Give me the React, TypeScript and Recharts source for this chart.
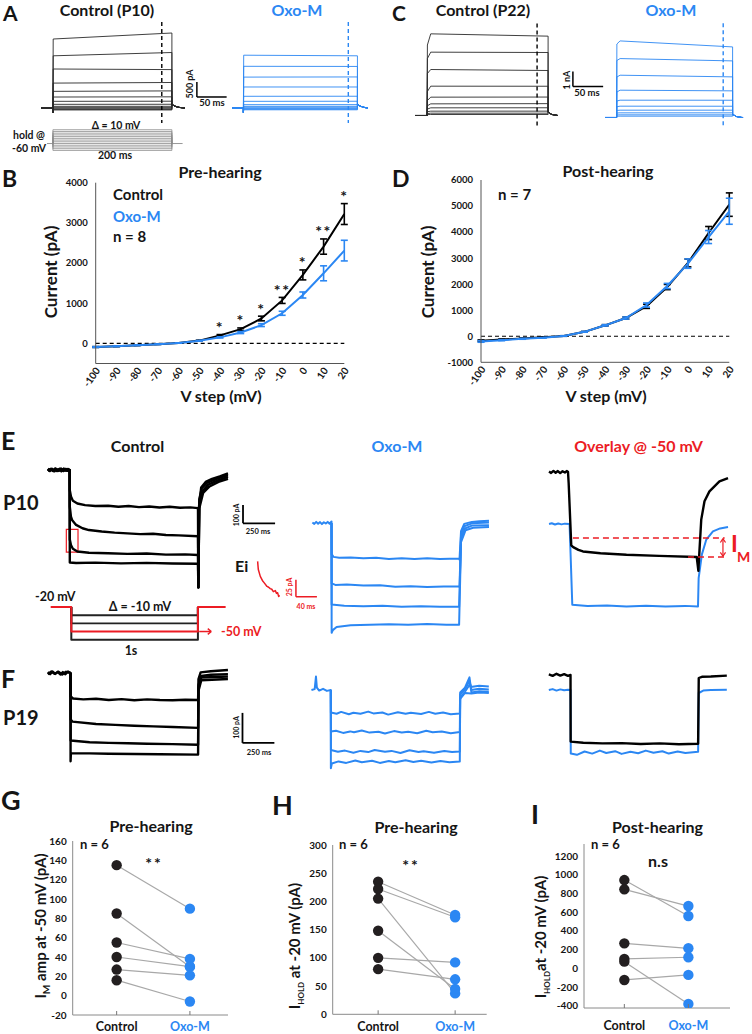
import React from 'react';
import {
  LineChart, Line, XAxis, YAxis, ReferenceLine, ReferenceArea,
  ComposedChart, Scatter, ErrorBar, LabelList,
} from 'recharts';

const FONT = 'Lato, "Open Sans", "DejaVu Sans", sans-serif';
const BLUE = '#2b87f3';
const RED = '#ec1c24';
const INK = '#151515';

// ---------------- Panel A / C : step current levels (pA) ----------------
const aCtrlLevels = [[2300, 2500], [1740, 1850], [1300, 1280], [830, 850], [555, 570], [366, 372], [222, 226], [122, 124], [55, 56], [11, 12], [-25, -25], [-45, -45], [-65, -65]];
const aOxoLevels = [[1760, 1740], [1390, 1385], [1030, 1035], [700, 700], [390, 392], [222, 225], [111, 112], [55, 56], [22, 22], [-20, -20], [-40, -40], [-60, -60]];
const cCtrlLevels = [[4700, 5444, 5290], [3800, 4222, 4200], [2800, 3066, 3000], [1600, 1955, 1950], [1000, 1222, 1230], [650, 777, 790], [430, 511, 515], [250, 289, 290], [130, 155, 155], [60, 67, 67]];
const cOxoLevels = [[4900, 5106, 4706], [3800, 3929, 3774], [2700, 2819, 2708], [1700, 1820, 1776], [1100, 1154, 1150], [720, 755, 750], [470, 488, 488], [300, 311, 311], [170, 178, 178], [85, 89, 89]];
const aProtocolSteps = [-100, -90, -80, -70, -60, -50, -40, -30, -20, -10, 0, 10, 20];

// ---------------- Panel B / D : I-V data ----------------
const vSteps = [-100, -90, -80, -70, -60, -50, -40, -30, -20, -10, 0, 10, 20];
const preCtrl = [-90, -70, -45, -20, 10, 70, 200, 355, 620, 1070, 1705, 2410, 3220];
const preCtrlErr = [10, 10, 8, 5, 5, 8, 20, 30, 58, 75, 124, 190, 260];
const preOxo = [-90, -70, -45, -20, 10, 65, 150, 270, 455, 750, 1205, 1745, 2310];
const preOxoErr = [10, 8, 6, 5, 5, 8, 15, 25, 35, 50, 75, 186, 257];
const preStars = ['', '', '', '', '', '', '*', '*', '*', '**', '*', '**', '*'];
const postCtrl = [-170, -125, -85, -40, 10, 170, 420, 700, 1150, 1890, 2815, 3965, 5055];
const postCtrlErr = [30, 20, 15, 10, 10, 15, 25, 40, 80, 100, 150, 250, 450];
const postOxo = [-200, -150, -100, -60, 10, 170, 420, 700, 1200, 1930, 2790, 3810, 4800];
const postOxoErr = [30, 20, 15, 10, 10, 15, 25, 40, 80, 100, 180, 250, 500];

// ---------------- Panel E / F : traces [ms, pA] ----------------
const eCtrlTraces = [
  [[-170, 4], [-155, -6], [-140, 7], [-125, -5], [-110, 8], [-95, -4], [-80, 6], [-65, -7], [-50, 5], [-35, -3], [-20, 6], [-5, -4], [0, 0], [1, -110], [10, -145], [25, -168], [60, -183], [120, -192], [200, -197], [300, -195], [380, -201], [460, -197], [540, -203], [620, -199], [700, -205], [780, -201], [860, -206], [940, -204], [1000, -208], [1003, -640], [1008, -200], [1025, -95], [1060, -65], [1110, -48], [1170, -35], [1234, -18]],
  [[-170, -5], [-150, 6], [-132, -4], [-115, 7], [-98, -6], [-80, 5], [-62, -5], [-45, 8], [-28, -4], [-12, 5], [0, 0], [1, -200], [10, -255], [20, -275], [50, -300], [100, -318], [150, -328], [250, -336], [350, -342], [450, -346], [550, -350], [650, -348], [750, -355], [850, -357], [1000, -362], [1003, -640], [1010, -160], [1030, -100], [1070, -70], [1140, -50], [1234, -28]],
  [[-170, 7], [-152, -3], [-136, 5], [-118, -7], [-100, 4], [-84, -5], [-66, 7], [-48, -6], [-30, 5], [-14, -3], [0, 0], [1, -380], [10, -410], [25, -430], [60, -445], [150, -452], [300, -455], [450, -458], [600, -456], [750, -462], [900, -461], [1000, -464], [1003, -640], [1010, -190], [1035, -115], [1080, -80], [1150, -58], [1234, -38]],
  [[-170, -3], [-148, 5], [-128, -6], [-108, 6], [-88, -3], [-70, 7], [-52, -4], [-34, 6], [-16, -5], [0, 0], [1, -505], [50, -508], [200, -506], [400, -510], [600, -507], [800, -511], [1000, -512], [1003, -640], [1010, -210], [1040, -125], [1090, -90], [1160, -65], [1234, -48]],
];
const eOxoTraces = [
  [[-150, 3], [-135, -5], [-120, 6], [-105, -4], [-90, 5], [-75, -6], [-60, 4], [-45, -3], [-30, 6], [-15, -4], [0, 8], [1, -170], [15, -185], [60, -190], [150, -188], [250, -193], [350, -190], [450, -196], [550, -192], [650, -197], [750, -193], [850, -196], [1000, -194], [1003, -200], [1015, -45], [1040, -5], [1100, 6], [1160, 9], [1234, 12]],
  [[0, 0], [1, -330], [30, -338], [120, -336], [250, -342], [380, -340], [500, -348], [620, -345], [750, -350], [880, -347], [1000, -346], [1003, -350], [1015, -65], [1040, -18], [1100, -2], [1234, 2]],
  [[0, 0], [1, -445], [100, -452], [250, -455], [400, -452], [550, -457], [700, -455], [850, -458], [1000, -458], [1015, -85], [1045, -30], [1100, -14], [1234, -12]],
  [[0, 0], [1, -600], [10, -585], [40, -568], [150, -558], [300, -556], [450, -553], [600, -556], [750, -552], [900, -555], [1000, -555], [1015, -105], [1050, -40], [1110, -26], [1234, -22]],
];
const eOverlayCtrl = [[-146, 3], [-130, -5], [-112, 6], [-95, -4], [-78, 5], [-60, -6], [-42, 4], [-24, -3], [-8, 5], [0, 0], [5, -60], [25, -400], [40, -410], [80, -425], [115, -434], [250, -444], [450, -452], [700, -458], [990, -464], [1003, -540], [1008, -470], [1025, -260], [1050, -160], [1088, -106], [1165, -51], [1231, -33]];
const eOverlayOxo = [[-146, -284], [-125, -280], [-100, -287], [-75, -281], [-50, -286], [-25, -282], [12, -284], [33, -725], [150, -732], [300, -729], [450, -734], [600, -730], [750, -735], [900, -731], [1000, -734], [1005, -580], [1030, -450], [1064, -369], [1115, -324], [1170, -308], [1231, -300]];
const eiTrace = [[0, 0], [1.3, -12], [5.1, -22], [9, -28], [13, -32], [17.9, -36.8], [21, -38], [24, -40], [27, -41], [30, -44.5], [33.7, -43], [36, -47], [38, -46], [40, -51.5], [42, -50]];
const eProtocolSteps = [-30, -40, -60];

const fCtrlTraces = [
  [[-178, 3], [-160, -4], [-140, 5], [-120, -3], [-100, 4], [-80, -5], [-60, 3], [-40, -4], [-20, 5], [0, 0], [1, -78], [20, -85], [100, -88], [200, -86], [300, -90], [400, -87], [500, -91], [600, -88], [700, -90], [800, -91], [900, -89], [1000, -90], [1003, -20], [1020, 2], [1100, 6], [1234, 10]],
  [[-178, -4], [-150, 5], [-125, -3], [-95, 4], [-65, -5], [-35, 4], [0, 0], [1, -155], [15, -162], [200, -170], [350, -173], [500, -176], [650, -178], [800, -180], [1000, -183], [1003, -40], [1025, -10], [1100, -6], [1234, -4]],
  [[0, 0], [1, -225], [150, -231], [300, -233], [450, -234], [600, -236], [800, -237], [1000, -239], [1003, -50], [1025, -15], [1234, -12]],
  [[0, 0], [0.5, -294], [3, -268], [150, -268], [300, -269], [500, -270], [700, -271], [1000, -272], [1003, -60], [1025, -24], [1234, -20]],
];
const fOxoTraces = [
  [[-150, 0], [-125, 3], [-115, 45], [-108, 8], [-90, -2], [-60, 4], [-30, -3], [0, 0], [1, -75], [45, -79], [80, -73], [140, -81], [175, -76], [230, -79], [290, -72], [330, -78], [400, -75], [445, -82], [520, -74], [580, -79], [620, -76], [700, -80], [760, -73], [810, -79], [870, -75], [930, -81], [1000, -78], [1003, -8], [1040, 8], [1075, 42], [1085, 10], [1150, 14], [1225, 12]],
  [[0, 0], [1, -138], [40, -136], [95, -143], [150, -138], [180, -141], [240, -135], [300, -142], [370, -139], [420, -145], [490, -137], [550, -142], [600, -139], [670, -144], [740, -136], [790, -141], [860, -138], [930, -144], [1000, -140], [1003, -15], [1040, 2], [1075, 30], [1090, 0], [1150, 4], [1225, 2]],
  [[0, 0], [1, -200], [55, -206], [110, -202], [175, -209], [230, -203], [290, -207], [340, -200], [420, -206], [470, -203], [540, -210], [610, -201], [680, -207], [720, -204], [800, -209], [880, -203], [940, -207], [1000, -205], [1003, -25], [1040, -6], [1080, 20], [1090, -8], [1150, -4], [1225, -6]],
  [[0, 0], [0.5, -261], [8, -245], [60, -238], [120, -243], [190, -235], [240, -241], [320, -236], [380, -243], [450, -237], [500, -241], [580, -234], [640, -240], [700, -236], [780, -242], [850, -237], [920, -241], [1000, -238], [1003, -30], [1040, -10], [1090, -12], [1150, -8], [1225, -10]],
];
const fOverlayCtrl = [[-170, 2], [-140, -3], [-110, 4], [-80, -2], [-50, 3], [-20, -3], [0, 0], [1, -222], [100, -226], [250, -228], [400, -227], [550, -230], [700, -228], [850, -231], [1000, -229], [1005, -10], [1030, -6], [1100, -5], [1225, -2]];
const fOverlayOxo = [[-170, -50], [-140, -47], [-110, -52], [-80, -48], [-50, -51], [-20, -49], [0, -50], [2, -262], [50, -266], [110, -255], [170, -262], [230, -252], [280, -260], [350, -254], [400, -263], [470, -256], [530, -261], [590, -252], [650, -259], [720, -254], [770, -262], [840, -255], [900, -260], [1000, -256], [1005, -60], [1040, -52], [1100, -50], [1225, -49]];

// ---------------- Panels G / H / I : paired data ----------------
const gCtrl = [135, 85, 55, 40, 27, 16];
const gOxo = [90, 30, 38, 30, 21, -6];
const hCtrl = [235, 222, 205, 148, 100, 80];
const hOxo = [176, 172, 37, 45, 92, 62];
const iCtrl = [944, 845, 267, 100, 71, -125];
const iOxo = [560, 666, 214, 118, -381, -71];
const gTicks = [-20, 0, 20, 40, 60, 80, 100, 120, 140, 160];
const hTicks = [0, 50, 100, 150, 200, 250, 300];
const iTicks = [-400, -200, 0, 200, 400, 600, 800, 1000, 1200];
const catLabels = ['Control', 'Oxo-M'];

// ---------------- helpers ----------------
const stepA = (lv: number[], ext: number) => [[-20, 0], [0, 0], [0, -150], [0.5, lv[0]], [200, lv[1]], [200, 120], [205, 60], [212, 20], [ext, 0]];
const stepC = (lv: number[], ext: number) => [[-20, 0], [0, 0], [0.5, lv[0]], [6, lv[1]], [200, lv[2]], [200, 220], [206, 70], [216, 0], [ext, 0]];
const protoA = (v: number) => [[0, -60], [0, v], [200, v], [200, -60]];
const protoE = (v: number) => [[0, -20], [0, v], [1000, v], [1000, -20]];

function Traces({ left, top, width, height, xd, yd, traces, children }: any) {
  return (
    <div style={{ position: 'absolute', left, top, width, height }}>
      <LineChart width={width} height={height} margin={{ top: 0, right: 0, bottom: 0, left: 0 }}>
        <XAxis type="number" dataKey="t" domain={xd} hide allowDataOverflow />
        <YAxis type="number" domain={yd} hide allowDataOverflow />
        {traces.map((tr: any, i: number) => (
          <Line
            key={i}
            data={tr.pts.map((p: number[]) => ({ t: p[0], v: p[1] }))}
            dataKey="v"
            type="linear"
            stroke={tr.c}
            strokeWidth={tr.w}
            dot={false}
            activeDot={false}
            isAnimationActive={false}
            strokeLinejoin="round"
          />
        ))}
        {children}
      </LineChart>
    </div>
  );
}

const seg = (x1: number, y1: number, x2: number, y2: number) => [{ x: x1, y: y1 }, { x: x2, y: y2 }];

const RotTick = (props: any) => {
  const { x, y, payload } = props;
  const ax = x + 5;
  const ay = y + 7;
  return (
    <text x={ax} y={ay} transform={`rotate(-55 ${ax} ${ay})`} textAnchor="end" fontSize={10} fontWeight={700} fontFamily={FONT} fill={INK}>
      {payload.value}
    </text>
  );
};

const yTickStyle = { fontSize: 9.5, fontWeight: 700, fill: INK, fontFamily: FONT };

function IVChart({ left, width, margin, yd, yTicks, ctrl, ctrlErr, oxo, oxoErr, stars }: any) {
  const data = vSteps.map((v, i) => ({ v, c: ctrl[i], ce: ctrlErr[i], o: oxo[i], oe: oxoErr[i], s: stars ? stars[i] : '' }));
  const plotH = 250 - margin.top - margin.bottom - 30;
  const pxPer = plotH / (yd[1] - yd[0]);
  const starContent = (p: any) => {
    const { x, y, value, index } = p;
    if (!value) return null;
    const topY = y - ctrlErr[index] * pxPer;
    return (
      <text x={x} y={topY - 1.5} textAnchor="middle" fontSize={16} fontWeight={700} fontFamily={FONT} fill={INK} letterSpacing={1.5}>
        {value}
      </text>
    );
  };
  return (
    <div style={{ position: 'absolute', left, top: 150, width, height: 250 }}>
      <ComposedChart width={width} height={250} data={data} margin={margin}>
        <XAxis type="number" dataKey="v" domain={[-100, 20]} ticks={vSteps} interval={0} tick={<RotTick />} tickSize={0} tickMargin={0} height={30} axisLine={{ stroke: '#555' }} allowDataOverflow />
        <YAxis type="number" domain={yd} ticks={yTicks} interval={0} width={40} tickSize={0} tickMargin={8} tick={yTickStyle} axisLine={{ stroke: '#555' }} allowDataOverflow />
        <ReferenceLine y={0} stroke="#000" strokeDasharray="4 3" strokeWidth={1.2} />
        <Line dataKey="c" type="linear" stroke="#000" strokeWidth={2} dot={false} activeDot={false} isAnimationActive={false}>
          <ErrorBar dataKey="ce" width={3.5} strokeWidth={1.6} stroke="#000" direction="y" />
          {stars ? <LabelList dataKey="s" content={starContent} /> : null}
        </Line>
        <Line dataKey="o" type="linear" stroke={BLUE} strokeWidth={2} dot={false} activeDot={false} isAnimationActive={false}>
          <ErrorBar dataKey="oe" width={3.5} strokeWidth={1.6} stroke={BLUE} direction="y" />
        </Line>
      </ComposedChart>
    </div>
  );
}

const CatTick = (props: any) => {
  const { x, y, payload, dy } = props;
  const idx = payload.value === 1 ? 0 : 1;
  return (
    <g>
      <line x1={x} x2={x} y1={y} y2={y - 4} stroke="#777" strokeWidth={1} />
      <text x={x} y={y + dy} textAnchor="middle" fontSize={12.5} fontWeight={700} fontFamily={FONT} fill={idx === 0 ? INK : BLUE}>
        {catLabels[idx]}
      </text>
    </g>
  );
};

function PairChart({ left, top, width, height, margin, xd, yd, yTicks, ctrl, oxo, xAxisH, dy }: any) {
  const cPts = ctrl.map((y: number) => ({ x: 1, y }));
  const oPts = oxo.map((y: number) => ({ x: 2, y }));
  const dot = (fill: string) => (p: any) => <circle cx={p.cx} cy={p.cy} r={5.2} fill={fill} />;
  return (
    <div style={{ position: 'absolute', left, top, width, height }}>
      <ComposedChart width={width} height={height} margin={margin}>
        <XAxis type="number" dataKey="x" domain={xd} ticks={[1, 2]} interval={0} tick={(p: any) => <CatTick {...p} dy={dy} />} tickSize={0} tickMargin={0} height={xAxisH} axisLine={{ stroke: '#8a8a8a' }} allowDataOverflow />
        <YAxis type="number" dataKey="y" domain={yd} ticks={yTicks} interval={0} width={40} tickSize={0} tickMargin={6} tick={{ ...yTickStyle, fontSize: 10 }} axisLine={{ stroke: '#8a8a8a' }} allowDataOverflow />
        {ctrl.map((c: number, i: number) => (
          <Line key={i} data={[{ x: 1, y: c }, { x: 2, y: oxo[i] }]} dataKey="y" type="linear" stroke="#a8a8a8" strokeWidth={1.2} dot={false} activeDot={false} isAnimationActive={false} />
        ))}
        <Scatter data={cPts} dataKey="y" shape={dot('#231f20')} isAnimationActive={false} />
        <Scatter data={oPts} dataKey="y" shape={dot(BLUE)} isAnimationActive={false} />
      </ComposedChart>
    </div>
  );
}

const T = ({ x, y, s, c = INK, a = 'start', r = 0, w = 700, ls, children }: any) => (
  <text x={x} y={y} fontSize={s} fill={c} textAnchor={a} fontWeight={w} fontFamily={FONT} letterSpacing={ls}
    transform={r ? `rotate(${r} ${x} ${y})` : undefined}>
    {children}
  </text>
);

export default function App() {
  const aCtrl = aCtrlLevels.map((lv) => ({ pts: stepA(lv, 222), c: '#2a2a2a', w: 0.9 }));
  const aOxo = aOxoLevels.map((lv) => ({ pts: stepA(lv, 218), c: BLUE, w: 0.9 }));
  const cCtrl = cCtrlLevels.map((lv) => ({ pts: stepC(lv, 216), c: '#2a2a2a', w: 0.9 }));
  const cOxo = cOxoLevels.map((lv) => ({ pts: stepC(lv, 218), c: BLUE, w: 0.9 }));
  const aProto = [
    ...aProtocolSteps.map((v) => ({ pts: protoA(v), c: '#8c8c8c', w: 0.8 })),
    { pts: [[-10, -60], [0, -60]], c: '#8c8c8c', w: 0.9 },
    { pts: [[200, -60], [218, -60]], c: '#8c8c8c', w: 0.9 },
  ];
  const eProto = [
    ...eProtocolSteps.map((v) => ({ pts: protoE(v), c: '#222', w: 2 })),
    { pts: [[-163, -20], [0, -20], [0, -50], [1000, -50], [1000, -20], [1219, -20]], c: RED, w: 2 },
  ];

  return (
    <div style={{ position: 'absolute', left: 0, top: 0, width: 752, height: 1034, background: '#fff', overflow: 'hidden', fontFamily: FONT }}>
      {/* ---------- A ---------- */}
      <Traces left={41.1} top={18} width={190.4} height={108} xd={[-20, 300]} yd={[-600, 3000]} traces={aCtrl}>
        <ReferenceLine segment={seg(183, 2870, 183, -500)} stroke="#000" strokeWidth={1.4} strokeDasharray="4 3" ifOverflow="visible" />
        <ReferenceLine segment={seg(242, 867, 242, 367)} stroke="#000" strokeWidth={1.5} ifOverflow="visible" />
        <ReferenceLine segment={seg(242, 367, 292, 367)} stroke="#000" strokeWidth={1.5} ifOverflow="visible" />
      </Traces>
      <Traces left={231.9} top={18} width={139.7} height={108} xd={[-20, 225]} yd={[-600, 3000]} traces={aOxo}>
        <ReferenceLine segment={seg(184, 2866, 184, -500)} stroke={BLUE} strokeWidth={1.4} strokeDasharray="4 3" ifOverflow="visible" />
      </Traces>
      <Traces left={41.1} top={127.6} width={190.4} height={24.15} xd={[-20, 300]} yd={[-110, 30]} traces={aProto} />

      {/* ---------- C ---------- */}
      <Traces left={414.6} top={17.5} width={193.6} height={112.5} xd={[-20, 300]} yd={[-1000, 6500]} traces={cCtrl}>
        <ReferenceLine segment={seg(181.8, 6133, 181.8, -800)} stroke="#000" strokeWidth={1.4} strokeDasharray="4 3" ifOverflow="visible" />
        <ReferenceLine segment={seg(241, 2933, 241, 1933)} stroke="#000" strokeWidth={1.5} ifOverflow="visible" />
        <ReferenceLine segment={seg(241, 1933, 291, 1933)} stroke="#000" strokeWidth={1.5} ifOverflow="visible" />
      </Traces>
      <Traces left={605.1} top={19.8} width={142.1} height={112.5} xd={[-20, 225]} yd={[-1000, 6500]} traces={cOxo}>
        <ReferenceLine segment={seg(183.8, 6289, 183.8, -647)} stroke={BLUE} strokeWidth={1.4} strokeDasharray="4 3" ifOverflow="visible" />
      </Traces>

      {/* ---------- B / D ---------- */}
      <IVChart left={0} width={376} margin={{ top: 32.7, right: 31.7, bottom: 6.5, left: 55.7 }} yd={[-500, 4000]} yTicks={[0, 1000, 2000, 3000, 4000]}
        ctrl={preCtrl} ctrlErr={preCtrlErr} oxo={preOxo} oxoErr={preOxoErr} stars={preStars} />
      <IVChart left={376} width={376} margin={{ top: 30, right: 22.7, bottom: 7.7, left: 65 }} yd={[-1000, 6000]} yTicks={[-1000, 0, 1000, 2000, 3000, 4000, 5000, 6000]}
        ctrl={postCtrl} ctrlErr={postCtrlErr} oxo={postOxo} oxoErr={postOxoErr} stars={null} />

      {/* ---------- E ---------- */}
      <Traces left={44.3} top={459} width={243.8} height={139.2} xd={[-200, 1700]} yd={[-700, 60]}
        traces={eCtrlTraces.map((p) => ({ pts: p, c: '#000', w: 2.4 }))}>
        <ReferenceArea x1={-26} x2={65} y1={-449} y2={-324} fill="none" stroke={RED} strokeWidth={1.2} ifOverflow="visible" />
        <ReferenceLine segment={seg(1351, -191, 1351, -291)} stroke="#000" strokeWidth={1.8} ifOverflow="visible" />
        <ReferenceLine segment={seg(1351, -291, 1601, -291)} stroke="#000" strokeWidth={1.8} ifOverflow="visible" />
      </Traces>
      <Traces left={254.7} top={558.3} width={65.6} height={44.2} xd={[-5, 120]} yd={[-60, 5]} traces={[{ pts: eiTrace, c: RED, w: 1.5 }]}>
        <ReferenceLine segment={seg(73, -27, 73, -52)} stroke={RED} strokeWidth={1.5} ifOverflow="visible" />
        <ReferenceLine segment={seg(73, -52, 113, -52)} stroke={RED} strokeWidth={1.5} ifOverflow="visible" />
      </Traces>
      <Traces left={306.2} top={512.3} width={191.4} height={139.2} xd={[-200, 1300]} yd={[-700, 60]}
        traces={eOxoTraces.map((p) => ({ pts: p, c: BLUE, w: 2 }))} />
      <Traces left={541.7} top={461.3} width={195} height={150.2} xd={[-200, 1300]} yd={[-760, 60]}
        traces={[{ pts: eOverlayOxo, c: BLUE, w: 2 }, { pts: eOverlayCtrl, c: '#000', w: 2.4 }]}>
        <ReferenceLine segment={seg(38, -360, 1205, -360)} stroke={RED} strokeWidth={1.6} strokeDasharray="6 4" ifOverflow="visible" />
        <ReferenceLine segment={seg(923, -464, 1205, -464)} stroke={RED} strokeWidth={1.6} strokeDasharray="6 4" ifOverflow="visible" />
        <ReferenceLine segment={seg(1192, -364, 1192, -460)} stroke={RED} strokeWidth={1.2} ifOverflow="visible" />
        <ReferenceLine segment={seg(1192, -364, 1172, -385)} stroke={RED} strokeWidth={1.2} ifOverflow="visible" />
        <ReferenceLine segment={seg(1192, -364, 1212, -385)} stroke={RED} strokeWidth={1.2} ifOverflow="visible" />
        <ReferenceLine segment={seg(1192, -460, 1172, -439)} stroke={RED} strokeWidth={1.2} ifOverflow="visible" />
        <ReferenceLine segment={seg(1192, -460, 1212, -439)} stroke={RED} strokeWidth={1.2} ifOverflow="visible" />
      </Traces>
      <Traces left={45.7} top={602.6} width={189.9} height={40.75} xd={[-200, 1300]} yd={[-65, -15]} traces={eProto}>
        <ReferenceLine segment={seg(1010, -50, 1105, -50)} stroke={RED} strokeWidth={1.5} ifOverflow="visible" />
        <ReferenceLine segment={seg(1105, -50, 1078, -46.5)} stroke={RED} strokeWidth={1.5} ifOverflow="visible" />
        <ReferenceLine segment={seg(1105, -50, 1078, -53.5)} stroke={RED} strokeWidth={1.5} ifOverflow="visible" />
      </Traces>

      {/* ---------- F ---------- */}
      <Traces left={45.2} top={661.3} width={242.4} height={108} xd={[-200, 1700]} yd={[-320, 40]}
        traces={fCtrlTraces.map((p) => ({ pts: p, c: '#000', w: 2.4 }))}>
        <ReferenceLine segment={seg(1348, -133, 1348, -233)} stroke="#000" strokeWidth={1.8} ifOverflow="visible" />
        <ReferenceLine segment={seg(1348, -233, 1598, -233)} stroke="#000" strokeWidth={1.8} ifOverflow="visible" />
      </Traces>
      <Traces left={305.2} top={672} width={193.5} height={114} xd={[-200, 1300]} yd={[-320, 60]}
        traces={fOxoTraces.map((p) => ({ pts: p, c: BLUE, w: 2 }))} />
      <Traces left={545.2} top={663} width={191.4} height={102} xd={[-200, 1300]} yd={[-300, 40]}
        traces={[{ pts: fOverlayOxo, c: BLUE, w: 2 }, { pts: fOverlayCtrl, c: '#000', w: 2.4 }]} />

      {/* ---------- G / H / I ---------- */}
      <PairChart left={0} top={800} width={250} height={234} margin={{ top: 41, right: 22, bottom: 0, left: 32.7 }} xd={[0.4, 2.52]} yd={[-20, 160]} yTicks={gTicks} ctrl={gCtrl} oxo={gOxo} xAxisH={19} dy={16} />
      <PairChart left={250} top={800} width={250} height={234} margin={{ top: 45, right: 13.3, bottom: 0, left: 42.7 }} xd={[0.41, 2.41]} yd={[0, 300]} yTicks={hTicks} ctrl={hCtrl} oxo={hOxo} xAxisH={19.7} dy={16.5} />
      <PairChart left={500} top={800} width={252} height={234} margin={{ top: 44, right: 22, bottom: 0, left: 44 }} xd={[0.37, 2.65]} yd={[-425, 1330]} yTicks={iTicks} ctrl={iCtrl} oxo={iOxo} xAxisH={26} dy={22} />

      {/* ---------- text layer ---------- */}
      <svg width={752} height={1034} style={{ position: 'absolute', left: 0, top: 0, pointerEvents: 'none' }}>
        {/* A */}
        <T x={3} y={21} s={21}>A</T>
        <T x={107} y={16} s={16} a="middle">Control (P10)</T>
        <T x={297} y={16} s={16} a="middle" c={BLUE}>Oxo-M</T>
        <T x={192.5} y={84} s={9} a="middle" r={-90}>500 pA</T>
        <T x={212} y={105.5} s={9.5} a="middle">50 ms</T>
        <T x={116} y={128.5} s={10.5} a="middle">Δ = 10 mV</T>
        <T x={13} y={138.5} s={10.5}>hold @</T>
        <T x={12} y={152} s={10.5}>-60 mV</T>
        <T x={115} y={159} s={10.5} a="middle">200 ms</T>
        {/* C */}
        <T x={392} y={21} s={21}>C</T>
        <T x={483} y={16} s={16} a="middle">Control (P22)</T>
        <T x={671} y={16} s={16} a="middle" c={BLUE}>Oxo-M</T>
        <T x={569.5} y={80} s={9} a="middle" r={-90}>1 nA</T>
        <T x={587} y={96} s={9.5} a="middle">50 ms</T>
        {/* B */}
        <T x={2} y={187} s={23}>B</T>
        <T x={220} y={177.5} s={16} a="middle">Pre-hearing</T>
        <T x={113} y={199.5} s={15}>Control</T>
        <T x={113} y={221.5} s={15} c={BLUE}>Oxo-M</T>
        <T x={113} y={242} s={15}>n = 8</T>
        <T x={56.5} y={272} s={17} a="middle" r={-90}>Current (pA)</T>
        <T x={221} y={401.5} s={16} a="middle">V step (mV)</T>
        {/* D */}
        <T x={392} y={187} s={23}>D</T>
        <T x={608} y={177} s={16} a="middle">Post-hearing</T>
        <T x={498} y={200} s={15}>n = 7</T>
        <T x={434} y={272} s={17} a="middle" r={-90}>Current (pA)</T>
        <T x={606} y={401.5} s={16} a="middle">V step (mV)</T>
        {/* E */}
        <T x={1} y={450} s={25}>E</T>
        <T x={137.5} y={452} s={16} a="middle">Control</T>
        <T x={397} y={452} s={16} a="middle" c={BLUE}>Oxo-M</T>
        <T x={638.5} y={452} s={16} a="middle" c={RED}>Overlay @ -50 mV</T>
        <T x={3} y={510} s={20}>P10</T>
        <T x={239} y={515} s={7} a="middle" r={-90}>100 pA</T>
        <T x={258} y={534} s={7.5} a="middle">250 ms</T>
        <T x={235} y={572} s={16}>Ei</T>
        <T x={292} y={587} s={7} a="middle" r={-90} c={RED}>25 pA</T>
        <T x={306} y={608.5} s={7} a="middle" c={RED}>40 ms</T>
        <T x={35} y={600.5} s={12.5}>-20 mV</T>
        <T x={140} y={611} s={12.5} a="middle">Δ = -10 mV</T>
        <T x={221} y={636} s={12.5} c={RED}>-50 mV</T>
        <T x={131} y={655} s={12.5} a="middle">1s</T>
        <T x={731} y={552} s={23} c={RED}>I</T>
        <T x={737} y={562} s={14} c={RED}>M</T>
        {/* F */}
        <T x={1} y={688} s={25}>F</T>
        <T x={3} y={725} s={20}>P19</T>
        <T x={239} y={727.5} s={7} a="middle" r={-90}>100 pA</T>
        <T x={259} y={755} s={7.5} a="middle">250 ms</T>
        {/* G */}
        <T x={1} y={810} s={27}>G</T>
        <T x={151} y={832} s={16} a="middle">Pre-hearing</T>
        <T x={80} y={849} s={13}>n = 6</T>
        <T x={154} y={869} s={16} a="middle" ls={2}>**</T>
        <text x={46} y={926} fontSize={15} fontWeight={700} fill={INK} fontFamily={FONT} textAnchor="middle" transform="rotate(-90 46 926)">
          I<tspan fontSize={10} dy={4}>M</tspan><tspan dy={-4}> amp at -50 mV (pA)</tspan>
        </text>
        {/* H */}
        <T x={272} y={815} s={27}>H</T>
        <T x={416} y={833} s={16} a="middle">Pre-hearing</T>
        <T x={339} y={849} s={13}>n = 6</T>
        <T x={411} y={871} s={16} a="middle" ls={2}>**</T>
        <text x={300} y={946} fontSize={15} fontWeight={700} fill={INK} fontFamily={FONT} textAnchor="middle" transform="rotate(-90 300 946)">
          I<tspan fontSize={8} dy={4}>HOLD</tspan><tspan dy={-4}> at -20 mV (pA)</tspan>
        </text>
        {/* I */}
        <T x={531} y={824} s={27}>I</T>
        <T x={657.5} y={833} s={16} a="middle">Post-hearing</T>
        <T x={591} y={849} s={13}>n = 6</T>
        <T x={658} y={867} s={16} a="middle">n.s</T>
        <text x={546} y={937} fontSize={15} fontWeight={700} fill={INK} fontFamily={FONT} textAnchor="middle" transform="rotate(-90 546 937)">
          I<tspan fontSize={8} dy={4}>HOLD</tspan><tspan dy={-4}>at -20 mV (pA)</tspan>
        </text>
      </svg>
    </div>
  );
}
